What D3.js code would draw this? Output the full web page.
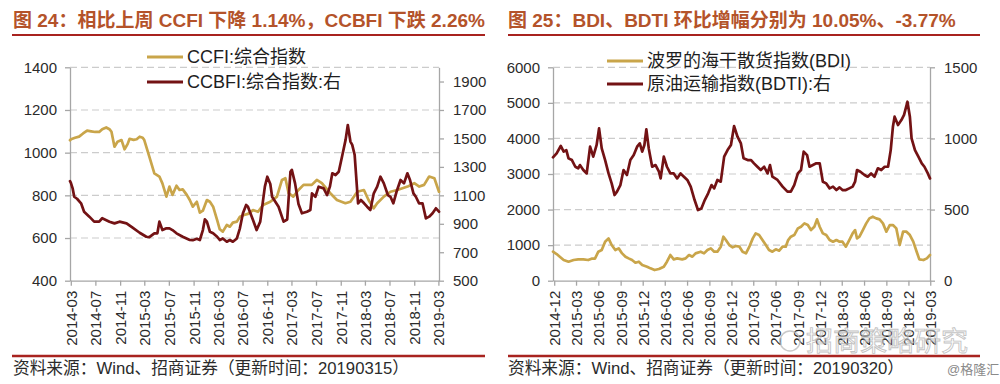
<!DOCTYPE html>
<html><head><meta charset="utf-8">
<script src="https://cdn.jsdelivr.net/npm/d3@7"></script>
<style>
html,body{margin:0;padding:0;background:#fff;}
svg{display:block;}
text{font-family:"Liberation Sans",Arial,"Noto Sans CJK SC",sans-serif;}
</style></head>
<body>
<svg id="chart" width="1000" height="384"></svg>
<script>
// ---------------- DATA ----------------
const leftTitle = "图 24：相比上周 CCFI 下降 1.14%，CCBFI 下跌 2.26%";
const rightTitle = "图 25：BDI、BDTI 环比增幅分别为 10.05%、-3.77%";
const leftSource = "资料来源：Wind、招商证券（更新时间：20190315）";
const rightSource = "资料来源：Wind、招商证券（更新时间：20190320）";

const leftSeriesNames = ["CCFI:综合指数", "CCBFI:综合指数:右"];
const rightSeriesNames = ["波罗的海干散货指数(BDI)", "原油运输指数(BDTI):右"];

const leftXTicks = ["2014-03","2014-07","2014-11","2015-03","2015-07","2015-11","2016-03","2016-07","2016-11","2017-03","2017-07","2017-11","2018-03","2018-07","2018-11","2019-03"];
const rightXTicks = ["2014-12","2015-03","2015-06","2015-09","2015-12","2016-03","2016-06","2016-09","2016-12","2017-03","2017-06","2017-09","2017-12","2018-03","2018-06","2018-09","2018-12","2019-03"];

const leftYTicks = [400,600,800,1000,1200,1400];
const leftY2Ticks = [500,700,900,1100,1300,1500,1700,1900];
const leftY2Max = 2000;
const rightYTicks = [0,1000,2000,3000,4000,5000,6000];
const rightY2Ticks = [0,500,1000,1500];

const ccfiDates = ["2014-02-25","2014-03-02","2014-03-22","2014-04-11","2014-05-01","2014-05-21","2014-06-10","2014-06-30","2014-07-20","2014-08-04","2014-08-24","2014-09-09","2014-09-19","2014-10-04","2014-10-19","2014-11-08","2014-11-23","2014-12-08","2014-12-18","2015-01-07","2015-01-22","2015-02-06","2015-02-21","2015-03-01","2015-03-26","2015-04-20","2015-05-15","2015-05-30","2015-06-19","2015-07-04","2015-07-19","2015-08-08","2015-08-23","2015-09-08","2015-09-28","2015-10-13","2015-10-28","2015-11-17","2015-12-02","2015-12-17","2016-01-06","2016-01-21","2016-02-06","2016-02-26","2016-03-10","2016-03-25","2016-04-14","2016-04-29","2016-05-14","2016-06-03","2016-06-18","2016-07-08","2016-07-28","2016-08-22","2016-09-16","2016-10-11","2016-11-16","2016-12-19","2017-01-13","2017-01-30","2017-02-15","2017-03-10","2017-04-05","2017-04-30","2017-06-10","2017-07-05","2017-07-30","2017-09-10","2017-10-13","2017-11-24","2017-12-19","2018-01-22","2018-02-24","2018-03-19","2018-04-13","2018-05-01","2018-06-03","2018-07-06","2018-08-09","2018-09-29","2018-11-01","2018-11-26","2018-12-20","2019-01-14","2019-02-09","2019-03-04"];
const ccfiValues = [1058,1063,1070,1075,1090,1103,1100,1097,1097,1110,1118,1110,1098,1028,1051,1059,1016,1040,1065,1060,1063,1075,1070,1059,981,903,888,856,794,841,802,845,825,828,802,778,747,770,719,728,778,770,747,684,641,630,661,653,672,677,700,708,713,731,723,755,770,794,872,880,810,794,825,849,849,872,857,810,778,763,770,817,825,778,739,763,794,817,825,841,857,841,849,888,880,817];

const ccbfiDates = ["2014-02-25","2014-03-01","2014-03-10","2014-03-18","2014-04-01","2014-04-21","2014-05-06","2014-06-01","2014-06-25","2014-07-20","2014-08-04","2014-09-09","2014-10-04","2014-10-29","2014-12-03","2015-01-02","2015-02-06","2015-03-11","2015-03-26","2015-04-20","2015-05-05","2015-05-15","2015-05-30","2015-06-19","2015-07-04","2015-07-19","2015-08-08","2015-09-08","2015-10-13","2015-10-28","2015-11-17","2015-12-02","2015-12-17","2015-12-27","2016-01-06","2016-01-21","2016-02-06","2016-02-26","2016-03-10","2016-03-25","2016-04-14","2016-04-29","2016-05-14","2016-06-03","2016-06-18","2016-07-03","2016-07-19","2016-07-28","2016-08-22","2016-09-09","2016-09-27","2016-10-20","2016-11-01","2016-11-16","2016-11-25","2016-12-27","2017-01-21","2017-02-08","2017-02-24","2017-03-03","2017-03-19","2017-04-05","2017-04-22","2017-05-17","2017-06-03","2017-06-11","2017-06-28","2017-07-14","2017-08-08","2017-08-25","2017-09-08","2017-09-20","2017-10-06","2017-10-22","2017-11-09","2017-11-25","2017-12-06","2017-12-19","2017-12-28","2018-01-09","2018-01-26","2018-02-09","2018-02-25","2018-03-12","2018-03-28","2018-04-14","2018-05-01","2018-05-17","2018-06-03","2018-06-23","2018-07-06","2018-07-20","2018-08-05","2018-08-25","2018-09-11","2018-09-28","2018-10-11","2018-10-28","2018-11-09","2018-11-25","2018-12-12","2018-12-29","2019-01-14","2019-01-31","2019-02-17","2019-03-04"];
const ccbfiValues = [1200,1189,1149,1090,1076,1044,985,950,915,915,939,915,903,915,903,873,837,809,806,833,833,915,856,868,868,856,833,809,786,785,795,786,856,932,915,844,833,809,786,797,774,786,774,797,868,974,1032,1020,927,856,915,1161,1231,1180,1090,1020,915,930,1266,1279,1184,1039,974,985,997,1114,1090,1161,1149,1102,1161,1255,1243,1266,1384,1490,1594,1478,1455,1384,1044,1067,1044,1020,997,1114,1161,1231,1184,1102,1090,1044,1125,1208,1184,1255,1208,1114,1090,1044,1044,938,950,974,1009,985];

const bdiDates = ["2014-11-26","2014-12-11","2014-12-24","2015-01-09","2015-01-29","2015-02-19","2015-03-10","2015-03-31","2015-04-20","2015-05-04","2015-05-18","2015-06-01","2015-06-15","2015-06-29","2015-07-13","2015-07-26","2015-08-10","2015-08-24","2015-09-07","2015-09-21","2015-10-04","2015-10-18","2015-11-01","2015-11-15","2015-11-29","2015-12-19","2016-01-02","2016-01-19","2016-02-06","2016-02-26","2016-03-10","2016-03-24","2016-04-07","2016-04-21","2016-05-12","2016-05-26","2016-06-09","2016-06-23","2016-07-06","2016-07-27","2016-08-10","2016-08-24","2016-09-07","2016-09-21","2016-10-04","2016-10-18","2016-10-29","2016-11-08","2016-11-22","2016-12-06","2016-12-19","2017-01-03","2017-01-16","2017-01-30","2017-02-13","2017-02-27","2017-03-11","2017-03-25","2017-04-08","2017-04-22","2017-05-05","2017-05-19","2017-06-02","2017-06-16","2017-06-30","2017-07-13","2017-07-23","2017-08-03","2017-08-17","2017-09-01","2017-09-14","2017-09-28","2017-10-12","2017-10-25","2017-11-08","2017-11-19","2017-11-30","2017-12-13","2017-12-27","2018-01-10","2018-01-24","2018-02-07","2018-02-20","2018-03-04","2018-03-18","2018-04-01","2018-04-15","2018-04-25","2018-05-03","2018-05-13","2018-05-27","2018-06-10","2018-06-23","2018-07-07","2018-07-21","2018-08-04","2018-08-18","2018-09-01","2018-09-15","2018-09-28","2018-10-12","2018-10-26","2018-11-09","2018-11-23","2018-12-07","2018-12-21","2019-01-04","2019-01-15","2019-02-01","2019-02-15","2019-02-28"];
const bdiValues = [815,750,675,581,534,581,600,600,581,619,619,815,862,1097,1190,1003,862,909,768,675,628,581,506,534,440,394,347,300,328,394,534,722,600,628,600,628,722,675,768,815,768,862,909,815,815,956,1237,1143,1003,937,975,956,815,768,956,1190,1331,1284,1143,1003,862,815,881,843,956,956,1143,1237,1284,1471,1518,1612,1565,1424,1518,1724,1518,1331,1284,1143,1097,1143,1097,1097,956,1143,1331,1424,1190,1237,1424,1612,1753,1799,1753,1724,1612,1378,1565,1565,1471,1003,1378,1378,1284,1097,815,600,581,628,722];

const bdtiDates = ["2014-11-26","2014-12-11","2014-12-28","2015-01-09","2015-01-20","2015-01-29","2015-02-12","2015-02-26","2015-03-10","2015-03-17","2015-03-31","2015-04-14","2015-04-28","2015-05-11","2015-05-25","2015-06-04","2015-06-15","2015-06-29","2015-07-13","2015-07-26","2015-08-07","2015-08-17","2015-08-31","2015-09-13","2015-09-27","2015-10-11","2015-10-25","2015-11-08","2015-11-19","2015-11-29","2015-12-08","2015-12-16","2015-12-26","2016-01-09","2016-01-23","2016-02-06","2016-02-13","2016-02-26","2016-03-10","2016-03-24","2016-04-07","2016-04-21","2016-05-05","2016-05-19","2016-06-02","2016-06-16","2016-07-02","2016-07-16","2016-07-30","2016-08-13","2016-08-27","2016-09-10","2016-09-21","2016-10-04","2016-10-18","2016-11-01","2016-11-15","2016-11-29","2016-12-12","2016-12-26","2017-01-09","2017-01-20","2017-02-06","2017-02-20","2017-03-04","2017-03-18","2017-04-01","2017-04-15","2017-04-29","2017-05-09","2017-05-19","2017-06-09","2017-06-30","2017-07-20","2017-08-03","2017-08-17","2017-09-01","2017-09-14","2017-09-25","2017-10-09","2017-10-19","2017-11-02","2017-11-16","2017-11-30","2017-12-13","2017-12-27","2018-01-10","2018-01-24","2018-02-07","2018-02-20","2018-03-04","2018-03-18","2018-04-01","2018-04-15","2018-04-25","2018-05-03","2018-05-17","2018-06-03","2018-06-16","2018-06-30","2018-07-14","2018-07-28","2018-08-11","2018-08-25","2018-09-08","2018-09-19","2018-09-28","2018-10-05","2018-10-19","2018-11-02","2018-11-13","2018-11-27","2018-12-07","2018-12-14","2018-12-28","2019-01-11","2019-01-25","2019-02-05","2019-02-19","2019-02-28"];
const bdtiValues = [867,895,947,907,918,860,848,801,790,813,778,754,942,872,954,1071,930,848,754,684,602,626,672,778,743,848,883,942,965,907,954,1064,930,801,813,766,719,872,801,754,754,719,754,731,708,661,567,497,508,567,614,672,649,708,696,872,918,954,1087,1012,965,860,848,848,825,801,778,801,754,813,731,708,661,626,626,672,754,778,907,883,801,813,825,825,696,684,649,661,637,656,637,637,649,661,696,778,766,743,731,754,731,790,778,801,801,918,1082,1153,1094,1129,1165,1258,1153,1000,918,872,825,801,754,719];

// ---------------- DRAW ----------------
const svg = d3.select("#chart");
const parseD = d3.timeParse("%Y-%m-%d");
const parseM = d3.timeParse("%Y-%m");
const GOLD = "#c9a54a", DARK = "#731214";
const TITLE_C = "#b4532a", RULE_C = "#a8231f";

function zip(dates, vals){ return dates.map((d,i)=>({date:parseD(d), v:vals[i]})); }

function drawPanel(o){
  const g = svg.append("g");
  const allDates = o.series.flatMap(s=>s.data.map(d=>d.date));
  const x = d3.scaleTime().domain(d3.extent(allDates)).range([o.x0, o.x1]);
  const yL = d3.scaleLinear().domain(o.yLDomain).range([o.yb, o.yt]);
  const yR = d3.scaleLinear().domain(o.yRDomain).range([o.yb, o.yt]);

  g.append("g").selectAll("line").data(o.yLTicks.filter(v=>v>o.yLDomain[0])).join("line")
    .attr("x1",o.x0).attr("x2",o.x1).attr("y1",d=>yL(d)).attr("y2",d=>yL(d))
    .attr("stroke","#cccccc").attr("stroke-width",1.2).attr("stroke-dasharray","7,4");

  const styleAxis = sel => {
    sel.selectAll("path.domain").attr("stroke","#a6a6a6").attr("stroke-width",1.3);
    sel.selectAll(".tick line").attr("stroke","#a6a6a6").attr("stroke-width",1.3);
    sel.selectAll("text").attr("fill","#2b2b2b").style("font-size","15px")
      .style("font-family",'"Liberation Sans",Arial,sans-serif');
  };

  const axL = g.append("g").attr("transform",`translate(${o.x0},0)`)
    .call(d3.axisLeft(yL).tickValues(o.yLTicks).tickSize(5).tickSizeOuter(0).tickPadding(8).tickFormat(d3.format("d")));
  styleAxis(axL);
  const axR = g.append("g").attr("transform",`translate(${o.x1},0)`)
    .call(d3.axisRight(yR).tickValues(o.yRTicks).tickSize(5).tickSizeOuter(0).tickPadding(9).tickFormat(d3.format("d")));
  styleAxis(axR);

  const axB = g.append("g").attr("transform",`translate(0,${o.yb})`)
    .call(d3.axisBottom(x).tickValues(o.xTicks.map(parseM)).tickSize(5).tickSizeOuter(0).tickFormat(d3.timeFormat("%Y-%m")));
  styleAxis(axB);
  axB.selectAll("text").attr("transform","rotate(-90)").attr("text-anchor","end")
    .attr("x",-10).attr("y",0).attr("dy","0.36em");

  o.series.forEach(s=>{
    const y = s.axis==="R" ? yR : yL;
    g.append("path").datum(s.data)
      .attr("fill","none").attr("stroke",s.color).attr("stroke-width",2.7)
      .attr("stroke-linejoin","round").attr("stroke-linecap","round")
      .attr("d", d3.line().x(d=>x(d.date)).y(d=>y(d.v)));
  });

  o.series.forEach((s,i)=>{
    const ly = o.legendY[i];
    g.append("line").attr("x1",o.legendX).attr("x2",o.legendX+36).attr("y1",ly).attr("y2",ly)
      .attr("stroke",s.color).attr("stroke-width",3.2);
    g.append("text").attr("x",o.legendX+40).attr("y",ly).attr("dy","0.36em")
      .attr("fill","#1e1e1e").style("font-size","18px").text(s.name);
  });

  g.append("text").attr("x",o.titleX).attr("y",27).attr("fill",TITLE_C)
    .style("font-size","19px").style("font-weight","bold").text(o.title);
  g.append("line").attr("x1",o.ruleX0).attr("x2",o.ruleX1).attr("y1",35).attr("y2",35)
    .attr("stroke",RULE_C).attr("stroke-width",2);
  g.append("line").attr("x1",o.ruleX0).attr("x2",o.ruleX1).attr("y1",356).attr("y2",356)
    .attr("stroke",RULE_C).attr("stroke-width",2.4);
  g.append("text").attr("x",o.titleX).attr("y",374).attr("fill","#2b2b2b")
    .style("font-size","16.7px").text(o.source);
}

drawPanel({
  x0:70, x1:439, yt:67.3, yb:280.7,
  yLDomain:[400,1400], yRDomain:[500,leftY2Max],
  yLTicks:leftYTicks, yRTicks:leftY2Ticks, xTicks:leftXTicks,
  series:[
    {name:leftSeriesNames[0], data:zip(ccfiDates,ccfiValues), color:GOLD, axis:"L"},
    {name:leftSeriesNames[1], data:zip(ccbfiDates,ccbfiValues), color:DARK, axis:"R"}
  ],
  legendX:147, legendY:[57,82],
  title:leftTitle, titleX:13, ruleX0:12, ruleX1:485, source:leftSource
});

drawPanel({
  x0:553, x1:930, yt:67.3, yb:280.7,
  yLDomain:[0,6000], yRDomain:[0,1500],
  yLTicks:rightYTicks, yRTicks:rightY2Ticks, xTicks:rightXTicks,
  series:[
    {name:rightSeriesNames[0], data:zip(bdiDates,bdiValues), color:GOLD, axis:"L"},
    {name:rightSeriesNames[1], data:zip(bdtiDates,bdtiValues), color:DARK, axis:"R"}
  ],
  legendX:607, legendY:[61,84],
  title:rightTitle, titleX:508, ruleX0:508, ruleX1:980, source:rightSource
});

const wm = svg.append("g").attr("opacity",0.75);
wm.append("circle").attr("cx",790).attr("cy",341).attr("r",10)
  .attr("fill","none").attr("stroke","#b8b8b8").attr("stroke-width",1.5);
wm.append("text").attr("x",806).attr("y",351).attr("fill","rgba(255,255,255,0.6)")
  .attr("stroke","#b0b0b0").attr("stroke-width",0.9)
  .style("font-size","27px").style("font-family","'Noto Sans CJK SC',sans-serif").text("招商策略研究");
svg.append("text").attr("x",947).attr("y",374).attr("fill","#8a8a8a")
  .style("font-size","13px").text("@格隆汇");
</script>
</body></html>
